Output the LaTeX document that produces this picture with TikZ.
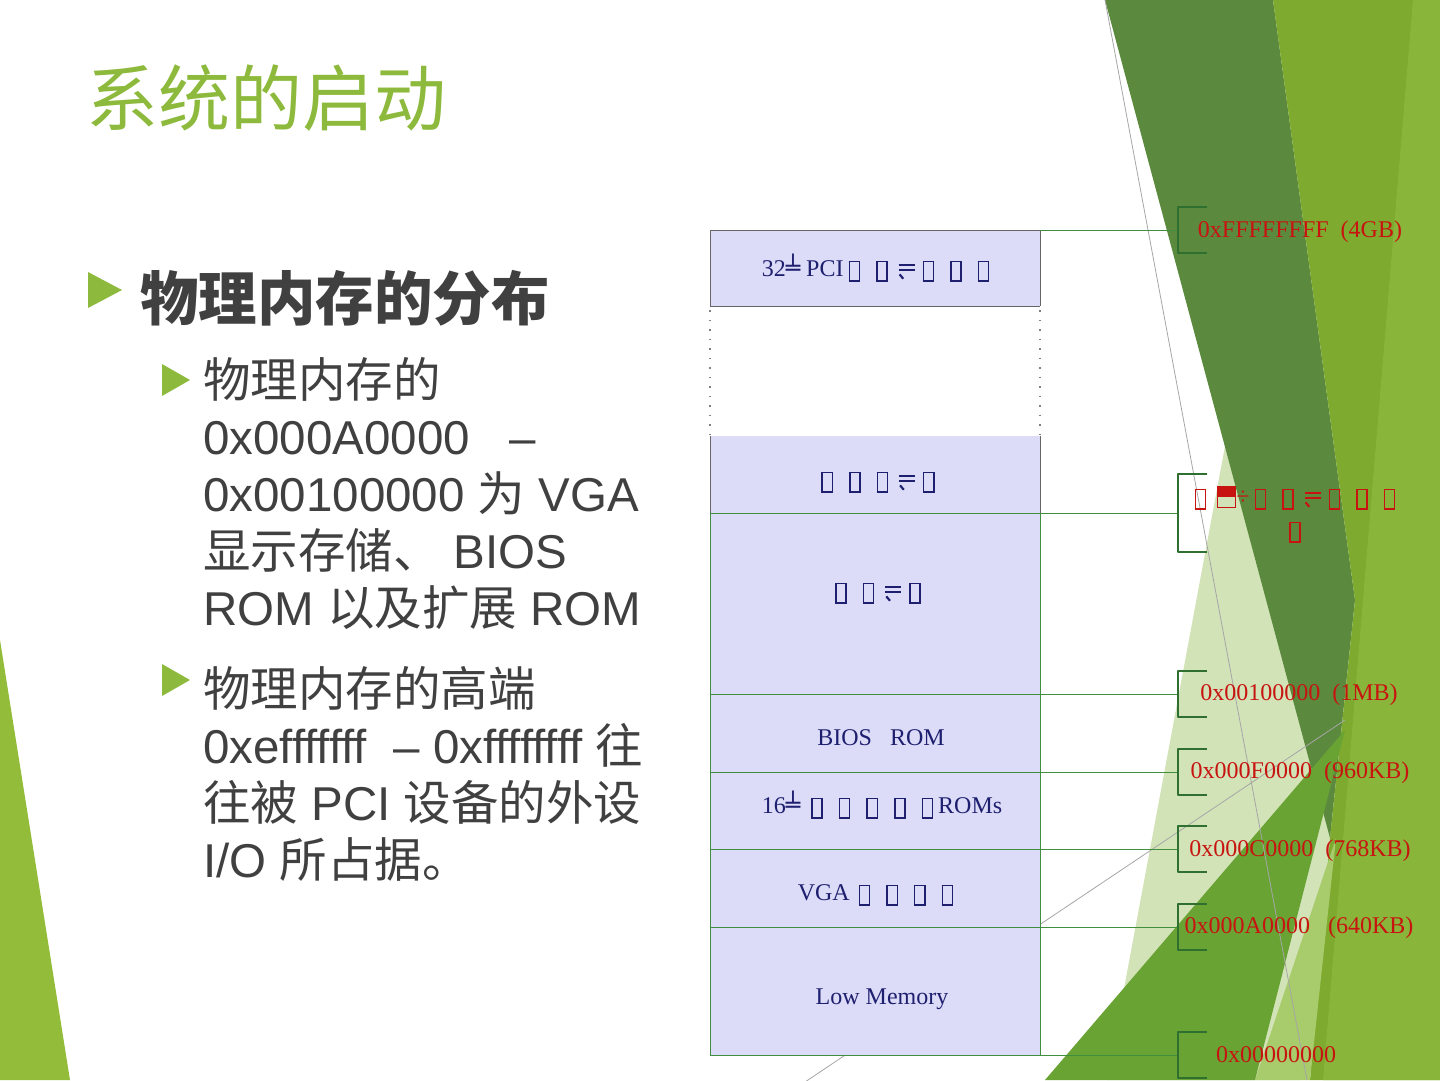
\documentclass[tikz,border=0pt]{standalone}
\usepackage{fontspec}
\setmainfont{Liberation Sans}
\newfontfamily\cjk{Noto Sans CJK SC}
\newfontfamily\serif{Liberation Serif}
\newfontfamily\symf{DejaVu Sans}
\usetikzlibrary{calc}

\definecolor{titlegreen}{HTML}{8DBA3C}
\definecolor{textgray}{HTML}{404040}
\definecolor{lav}{HTML}{DCDCF8}
\definecolor{navy}{HTML}{1F1F70}
\definecolor{hexred}{HTML}{C81410}
\definecolor{brk}{HTML}{2F6F2F}
\definecolor{conn}{HTML}{3F8F3F}
\definecolor{leafdark}{HTML}{5B8A3E}
\definecolor{leaf}{HTML}{7DAA2F}
\definecolor{leaflight}{HTML}{89B63A}
\definecolor{leafmid}{HTML}{68A334}
\definecolor{leafsoft}{HTML}{A8CB6C}
\definecolor{pale}{HTML}{D2E3B8}
\definecolor{leafleft}{HTML}{93BC3A}

% glyphs that the slide printed as empty boxes
\newcommand\tofu{\hbox to 0.9em{\hss\raisebox{-0.18em}{\fboxsep0pt\fboxrule0.06em\framebox{\rule{0.36em}{0pt}\rule{0pt}{0.76em}}}\hss}}
\newcommand\halfbox{\raisebox{-0.12em}{\fboxsep0pt\fboxrule0.05em\fbox{\rule[0.4em]{0.7em}{0.42em}}}}
% double bar with a hook under its left end
\newcommand\harp{\makebox[0.78em][l]{\rule[0.40em]{0.66em}{0.11em}\hspace{-0.66em}\rule[0.20em]{0.66em}{0.11em}\hspace{-0.66em}\raisebox{0.04em}{\rotatebox{-50}{\rule{0.24em}{0.09em}}}}}

\tikzset{
  hex/.style={font=\serif\fontsize{24}{28}\selectfont,text=hexred,anchor=base,inner sep=0pt},
  cell/.style={font=\serif\fontsize{24}{28}\selectfont,text=navy,anchor=base,inner sep=0pt},
  body/.style={font=\fontsize{47.5}{57}\selectfont,text=textgray,anchor=base west,inner sep=0pt},
  tip/.style={fill=titlegreen}
}

\begin{document}
\begin{tikzpicture}[x=1pt,y=-1pt,line join=round]
\useasboundingbox (0,0) rectangle (1440,1080);
% background facets
\fill[leafleft] (0,640) -- (70,1080) -- (0,1080) -- cycle;
\fill[pale] (1228,430) -- (1336,838) -- (1300,1080) -- (1107,1080) -- cycle;
\fill[leafdark] (1105,0) -- (1273,0) -- (1355,600) -- (1330,838) -- cycle;
\fill[leaf] (1273,0) -- (1440,0) -- (1440,1080) -- (1310,1080) -- (1330,838) -- (1355,600) -- cycle;
\fill[leaflight] (1413,0) -- (1440,0) -- (1440,1080) -- (1323,1080) -- cycle;
\fill[leafsoft] (1336,838) -- (1310,1080) -- (1255,1080) -- cycle;
\fill[leafmid] (1045,1080) -- (1345,730) -- (1255,1080) -- cycle;
\draw[gray!70,line width=0.8pt] (1105,0) -- (1307,1080) (805,1082) -- (1345,720);

% title and bullets
\node[anchor=base west,inner sep=0pt,text=titlegreen,font=\cjk\fontsize{72}{80}\selectfont] (title) at (86,125) {系统的启动};
\fill[tip] (88,272) -- (88,308) -- (122,290) -- cycle;
\node[anchor=base west,inner sep=0pt,text=textgray,font=\cjk\bfseries\fontsize{58.5}{66}\selectfont] (head) at (140,320) {物理内存的分布};
\fill[tip] (162,364) -- (162,396) -- (190,380) -- cycle;
\fill[tip] (162,664) -- (162,696) -- (190,680) -- cycle;
\node[body] (a1) at (203,397) {\cjk 物理内存的};
\node[body] (a2) at (203,454) {0x000A0000~~ –};
\node[body] (a3) at (203,511) {0x00100000 {\cjk 为} VGA};
\node[body] (a4) at (203,568) {{\cjk 显示存储、} BIOS};
\node[body] (a5) at (203,625) {ROM {\cjk 以及扩展} ROM};
\node[body] (b1) at (203,706) {\cjk 物理内存的高端};
\node[body] (b2) at (203,763) {0xefffffff~ – 0xffffffff {\cjk 往}};
\node[body] (b3) at (203,820) {{\cjk 往被} PCI {\cjk 设备的外设}};
\node[body] (b4) at (203,877) {I/O {\cjk 所占据。}};

% memory map
\fill[lav] (710,230) rectangle (1040,306);
\fill[lav] (710,436) rectangle (1040,1055);
\draw[gray!80!black,line width=1pt] (710,230) -- (1040,230) (710,306) -- (1040,306)
  (710,230) -- (710,306) (1040,230) -- (1040,306) (710,436) -- (710,513) (1040,436) -- (1040,513);
\draw[gray,line width=1.5pt,dash pattern=on 1.5pt off 8pt] (710,310) -- (710,436) (1040,310) -- (1040,436);
\draw[conn,line width=1pt] (710,513) -- (710,1055) (1040,513) -- (1040,1055);
\foreach \y in {513,694,772,849,927,1055}{\draw[conn,line width=1pt] (710,\y) -- (1040,\y);}
\node[cell] (pci) at (878,276) {32{\symf ╧} PCI\tofu\ \tofu\ \harp\tofu\ \tofu\ \tofu};
\node[cell] (ext) at (878,487) {\tofu\ \tofu\ \tofu\ \harp\tofu};
\node[cell] (mem) at (878,598) {\tofu\ \tofu\ \harp\tofu};
\node[cell] (bios) at (881,745) {BIOS~~ ROM};
\node[cell] (rom16) at (882,813) {16{\symf ╧} \tofu\ \tofu\ \tofu\ \tofu\ \tofu ROMs};
\node[cell] (vga) at (878,900) {VGA\,\tofu\ \tofu\ \tofu\ \tofu};
\node[cell] (low) at (882,1004) {Low Memory};

% connectors and brackets
\foreach \n/\y/\h in {gb/230/23,hi/513/39,mb/694/23,kb960/772/23,kb768/849/23,kb640/927/23,zero/1055/23}{
  \coordinate (m\n) at (1040,\y);
  \coordinate (k\n) at (1178,\y);
  \draw[conn,line width=1pt] (m\n) -- (k\n);
  \draw[brk,line width=1.5pt] ($(k\n)+(29,-\h)$) -- ($(k\n)+(0,-\h)$) -- ($(k\n)+(0,\h)$) -- ($(k\n)+(29,\h)$);
}
\node[hex] (lgb) at (1300,237) {0xFFFFFFFF~ (4GB)};
\node[hex] (lhi) at (1295,504) {\tofu\ \halfbox{\serif ÷}\tofu\ \tofu\ \harp\tofu\ \tofu\ \tofu};
\node[hex] (lhi2) at (1295,537) {\tofu};
\node[hex] (lmb) at (1299,700) {0x00100000~ (1MB)};
\node[hex] (l960) at (1300,778) {0x000F0000~ (960KB)};
\node[hex] (l768) at (1300,856) {0x000C0000~ (768KB)};
\node[hex] (l640) at (1299,933) {0x000A0000~~ (640KB)};
\node[hex] (lzero) at (1276,1062) {0x00000000};
\end{tikzpicture}
\end{document}
